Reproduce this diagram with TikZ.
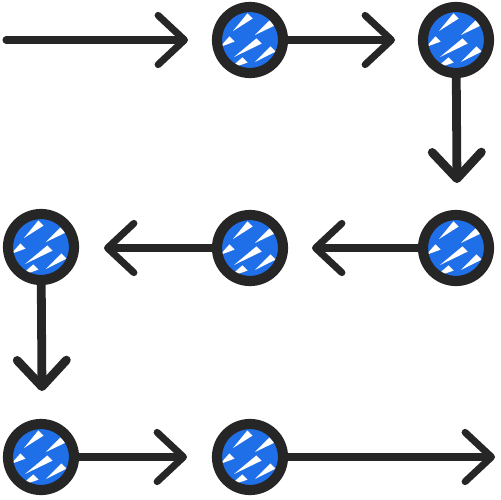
\documentclass[tikz,border=0pt]{standalone}
\usepackage{tikz}
\usetikzlibrary{arrows.meta}

\definecolor{beadblue}{HTML}{1F70E8}
\definecolor{ink}{HTML}{262626}

% white scratch in the blue fill
\newcommand{\streak}[4]{\fill[white] (#1,#2) -- (#3-2.6,#4-2.6) -- (#3+2.6,#4+2.6) -- cycle;}

\tikzset{
  bead/.style={circle, draw=ink, fill=beadblue, line width=5.8pt, minimum size=1.32cm, inner sep=0pt,
    path picture={\begin{scope}[shift={(path picture bounding box.center)}]
      \streak{-17}{-9}{0}{-24}
      \streak{5}{-5}{22}{-17}
      \streak{-30}{7}{-18}{-1}
      \streak{-16}{17}{9}{1}
      \streak{-21}{29}{-5}{20}
      \streak{5}{22}{23}{9}
    \end{scope}}},
  link/.style={draw=ink, line width=4pt, line cap=round, -{Straight Barb[length=15pt,width=28pt,round]}},
  linkv/.style={link, line width=5pt}
}

\begin{document}
\begin{tikzpicture}[x=0.02cm, y=-0.02cm]
  \useasboundingbox (0,0) rectangle (500,500);

  \node[bead] (b1) at (250,40){};
  \node[bead] (b2) at (456,40){};
  \node[bead] (b3) at (456,248){};
  \node[bead] (b4) at (250,248){};
  \node[bead] (b5) at (41,247){};
  \node[bead] (b6) at (41,457){};
  \node[bead] (b7) at (250,457){};

  \coordinate (s1) at (6,40);
  \coordinate (e1) at (188,40);
  \coordinate (e2) at (395,40);
  \coordinate (e3) at (457,183);
  \coordinate (e4) at (312,248);
  \coordinate (e5) at (104,248);
  \coordinate (e6) at (42,391);
  \coordinate (e7) at (187,457);
  \coordinate (e8) at (495,457);

  \draw[link] (s1) -- (e1);
  \draw[link] (b1) -- (e2);
  \draw[linkv] (b2) -- (e3);
  \draw[link] (b3) -- (e4);
  \draw[link] (b4) -- (e5);
  \draw[linkv] (b5) -- (e6);
  \draw[link] (b6) -- (e7);
  \draw[link] (b7) -- (e8);
\end{tikzpicture}
\end{document}
